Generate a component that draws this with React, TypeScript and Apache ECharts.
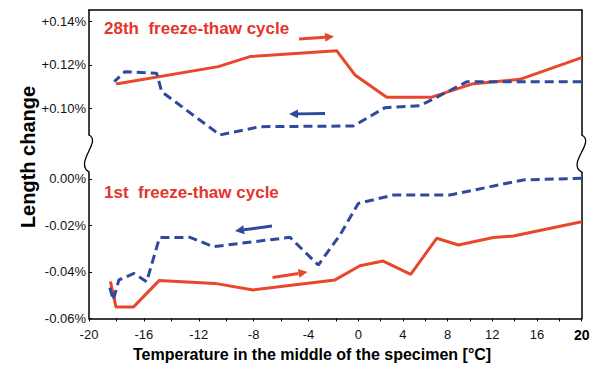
import React, { useEffect, useRef } from "react";
import * as echarts from "echarts";

// ---- data (temperature in °C, length change in %) ----
// 28th freeze-thaw cycle, warming (red, solid)
const temp28Warm = [-18.03, -10.58, -8.27, -1.94, -0.3, 2.54, 6.57, 10.15, 14.47, 20];
const len28Warm = [0.1112, 0.1192, 0.1238, 0.1265, 0.1154, 0.1052, 0.1052, 0.1112, 0.1134, 0.1233];
// 28th freeze-thaw cycle, cooling (blue, dashed)
const temp28Cool = [20, 9.75, 5.52, 2.39, -0.45, -7.54, -10.45, -14.7, -15.07, -17.38, -18.16];
const len28Cool = [0.1123, 0.1123, 0.1013, 0.1004, 0.092, 0.0917, 0.0879, 0.1077, 0.1162, 0.1169, 0.1123];
// 1st freeze-thaw cycle, warming (red, solid)
const temp1Warm = [-18.44, -18.03, -16.77, -14.89, -10.82, -8.03, -2.07, 0.15, 2.23, 4.69, 7.02, 8.96, 12.09, 13.88, 20];
const len1Warm = [-0.0441, -0.0551, -0.0551, -0.0437, -0.0449, -0.0477, -0.0434, -0.0373, -0.0353, -0.041, -0.0255, -0.0284, -0.0252, -0.0245, -0.0184];
// 1st freeze-thaw cycle, cooling (blue, dashed)
const temp1Cool = [20, 14.77, 8.21, 3.13, 0.0, -1.64, -3.29, -5.35, -10.94, -12.64, -14.86, -15.8, -16.72, -17.82, -18.23, -18.58];
const len1Cool = [0.0003, -0.0004, -0.0069, -0.0069, -0.0105, -0.0241, -0.037, -0.0251, -0.0291, -0.0251, -0.0252, -0.0442, -0.0406, -0.0434, -0.052, -0.0447];

// tick labels
const xTickTemps = [-20, -18, -16, -14, -12, -10, -8, -6, -4, -2, 0, 2, 4, 6, 8, 10, 12, 14, 16, 18, 20];
const xLabelTemps = [-20, -16, -12, -8, -4, 0, 4, 8, 12, 16, 20];
const yTopTicks = [0.1, 0.12, 0.14];
const yBottomTicks = [-0.06, -0.04, -0.02, 0];

// The original temperature axis is not uniform: degrees below -2 °C are drawn wider.
const KNEE = -2;
const STRETCH = 1.2283;
const toAxis = (t: number) => (t >= KNEE ? t : KNEE + (t - KNEE) * STRETCH);
const fromAxis = (u: number) => (u >= KNEE ? u : KNEE + (u - KNEE) / STRETCH);

const RED = "#e8472b";
const BLUE = "#2f4a9c";
const FONT = "Liberation Sans, Arial, sans-serif";

const pairs = (xs: number[], ys: number[]) => xs.map((t, i) => [toAxis(t), ys[i]]);

const fmtY = (v: number) => {
  if (Math.abs(v) < 1e-9) return "0.00%";
  return (v > 0 ? "+" : "") + v.toFixed(2) + "%";
};

function arrow(x1: number, y1: number, x2: number, y2: number, color: string) {
  const dx = x2 - x1;
  const dy = y2 - y1;
  const L = Math.hypot(dx, dy);
  const ux = dx / L;
  const uy = dy / L;
  const hl = 9;
  const hw = 4.5;
  const bx = x2 - ux * hl;
  const by = y2 - uy * hl;
  return [
    { type: "line", shape: { x1, y1, x2: bx, y2: by }, style: { stroke: color, lineWidth: 3 } },
    {
      type: "polygon",
      shape: { points: [[x2, y2], [bx - uy * hw, by + ux * hw], [bx + uy * hw, by - ux * hw]] },
      style: { fill: color },
    },
  ];
}

export default function App() {
  const ref = useRef<HTMLDivElement>(null);
  useEffect(() => {
    document.body.style.margin = "0";
    const chart = echarts.init(ref.current!, null, { renderer: "svg" });
    const xMin = toAxis(-20);
    const axisLineStyle = { color: "#000", width: 1.5 };
    const lineAxisOnly = {
      axisLine: { show: true, onZero: false, lineStyle: axisLineStyle },
      axisTick: { show: false },
      axisLabel: { show: false },
      splitLine: { show: false },
    };
    const yLabel = {
      fontSize: 13,
      fontFamily: FONT,
      color: "#111",
      margin: 3,
      formatter: fmtY,
    };
    chart.setOption({
      animation: false,
      grid: [
        { left: 89, right: 16.3, top: 10, height: 125 },
        { left: 89, right: 16.3, top: 172, height: 146.5 },
      ],
      xAxis: [
        { gridIndex: 0, type: "value", position: "top", min: xMin, max: 20, ...lineAxisOnly },
        {
          gridIndex: 1,
          type: "value",
          position: "bottom",
          min: xMin,
          max: 20,
          axisLine: { show: true, onZero: false, lineStyle: axisLineStyle },
          axisTick: {
            show: true,
            length: 3,
            customValues: xTickTemps.map(toAxis),
            lineStyle: { color: "#000", width: 1 },
          },
          axisLabel: {
            customValues: xLabelTemps.map(toAxis),
            fontSize: 13,
            fontFamily: FONT,
            color: "#111",
            margin: 9,
            formatter: (u: number) => {
              const t = Math.round(fromAxis(u));
              return t === 20 ? "{b|20}" : String(t);
            },
            rich: { b: { fontWeight: "bold", fontSize: 14, fontFamily: FONT, color: "#000" } },
          },
          splitLine: { show: false },
        },
      ],
      yAxis: [
        {
          gridIndex: 0,
          type: "value",
          min: 0.08788,
          max: 0.14515,
          axisLine: { show: true, onZero: false, lineStyle: axisLineStyle },
          axisTick: { show: true, inside: true, length: 3, customValues: yTopTicks, lineStyle: { color: "#000" } },
          axisLabel: { ...yLabel, customValues: yTopTicks },
          splitLine: { show: false },
        },
        { gridIndex: 0, type: "value", position: "right", min: 0.08788, max: 0.14515, ...lineAxisOnly },
        {
          gridIndex: 1,
          type: "value",
          min: -0.06,
          max: 0.003,
          axisLine: { show: true, onZero: false, lineStyle: axisLineStyle },
          axisTick: { show: true, inside: true, length: 3, customValues: yBottomTicks, lineStyle: { color: "#000" } },
          axisLabel: { ...yLabel, customValues: yBottomTicks },
          splitLine: { show: false },
        },
        { gridIndex: 1, type: "value", position: "right", min: -0.06, max: 0.003, ...lineAxisOnly },
      ],
      series: [
        {
          type: "line", xAxisIndex: 0, yAxisIndex: 0, data: pairs(temp28Warm, len28Warm),
          symbol: "none", clip: false, silent: true, lineStyle: { color: RED, width: 3 },
        },
        {
          type: "line", xAxisIndex: 0, yAxisIndex: 0, data: pairs(temp28Cool, len28Cool),
          symbol: "none", clip: false, silent: true, lineStyle: { color: BLUE, width: 3, type: [9, 5] },
        },
        {
          type: "line", xAxisIndex: 1, yAxisIndex: 2, data: pairs(temp1Warm, len1Warm),
          symbol: "none", clip: false, silent: true, lineStyle: { color: RED, width: 3 },
        },
        {
          type: "line", xAxisIndex: 1, yAxisIndex: 2, data: pairs(temp1Cool, len1Cool),
          symbol: "none", clip: false, silent: true, lineStyle: { color: BLUE, width: 3, type: [9, 5] },
        },
      ],
      graphic: [
        // axis break marks
        {
          type: "bezierCurve",
          shape: { x1: 89, y1: 135, cpx1: 102, cpy1: 141, cpx2: 74, cpy2: 163, x2: 89, y2: 172 },
          style: { stroke: "#000", lineWidth: 1.3, fill: "none" },
        },
        {
          type: "bezierCurve",
          shape: { x1: 581.7, y1: 135, cpx1: 596, cpy1: 142, cpx2: 566, cpy2: 164, x2: 581.7, y2: 172 },
          style: { stroke: "#000", lineWidth: 1.3, fill: "none" },
        },
        {
          type: "text", x: 104, y: 28,
          style: { text: "28th  freeze-thaw cycle", fill: "#e5352b", fontSize: 17, fontWeight: "bold", fontFamily: FONT, align: "left", verticalAlign: "middle" },
        },
        {
          type: "text", x: 104, y: 192,
          style: { text: "1st  freeze-thaw cycle", fill: "#e5352b", fontSize: 17, fontWeight: "bold", fontFamily: FONT, align: "left", verticalAlign: "middle" },
        },
        ...arrow(299, 39, 334, 36.5, RED),
        ...arrow(325, 113.5, 289, 114, BLUE),
        ...arrow(272, 226, 235, 231, BLUE),
        ...arrow(272.5, 277.5, 307.5, 272, RED),
        {
          type: "text", x: 28, y: 157, rotation: Math.PI / 2,
          style: { text: "Length change", fill: "#000", fontSize: 20, fontWeight: "bold", fontFamily: FONT, align: "center", verticalAlign: "middle" },
        },
        {
          type: "text", x: 133, y: 354,
          style: { text: "Temperature in the middle of the specimen [°C]", fill: "#000", fontSize: 16, fontWeight: "bold", fontFamily: FONT, align: "left", verticalAlign: "middle" },
        },
      ],
    });
    return () => chart.dispose();
  }, []);
  return (
    <div
      ref={ref}
      style={{ position: "fixed", left: 0, top: 0, width: 598, height: 374, background: "#fff" }}
    />
  );
}
